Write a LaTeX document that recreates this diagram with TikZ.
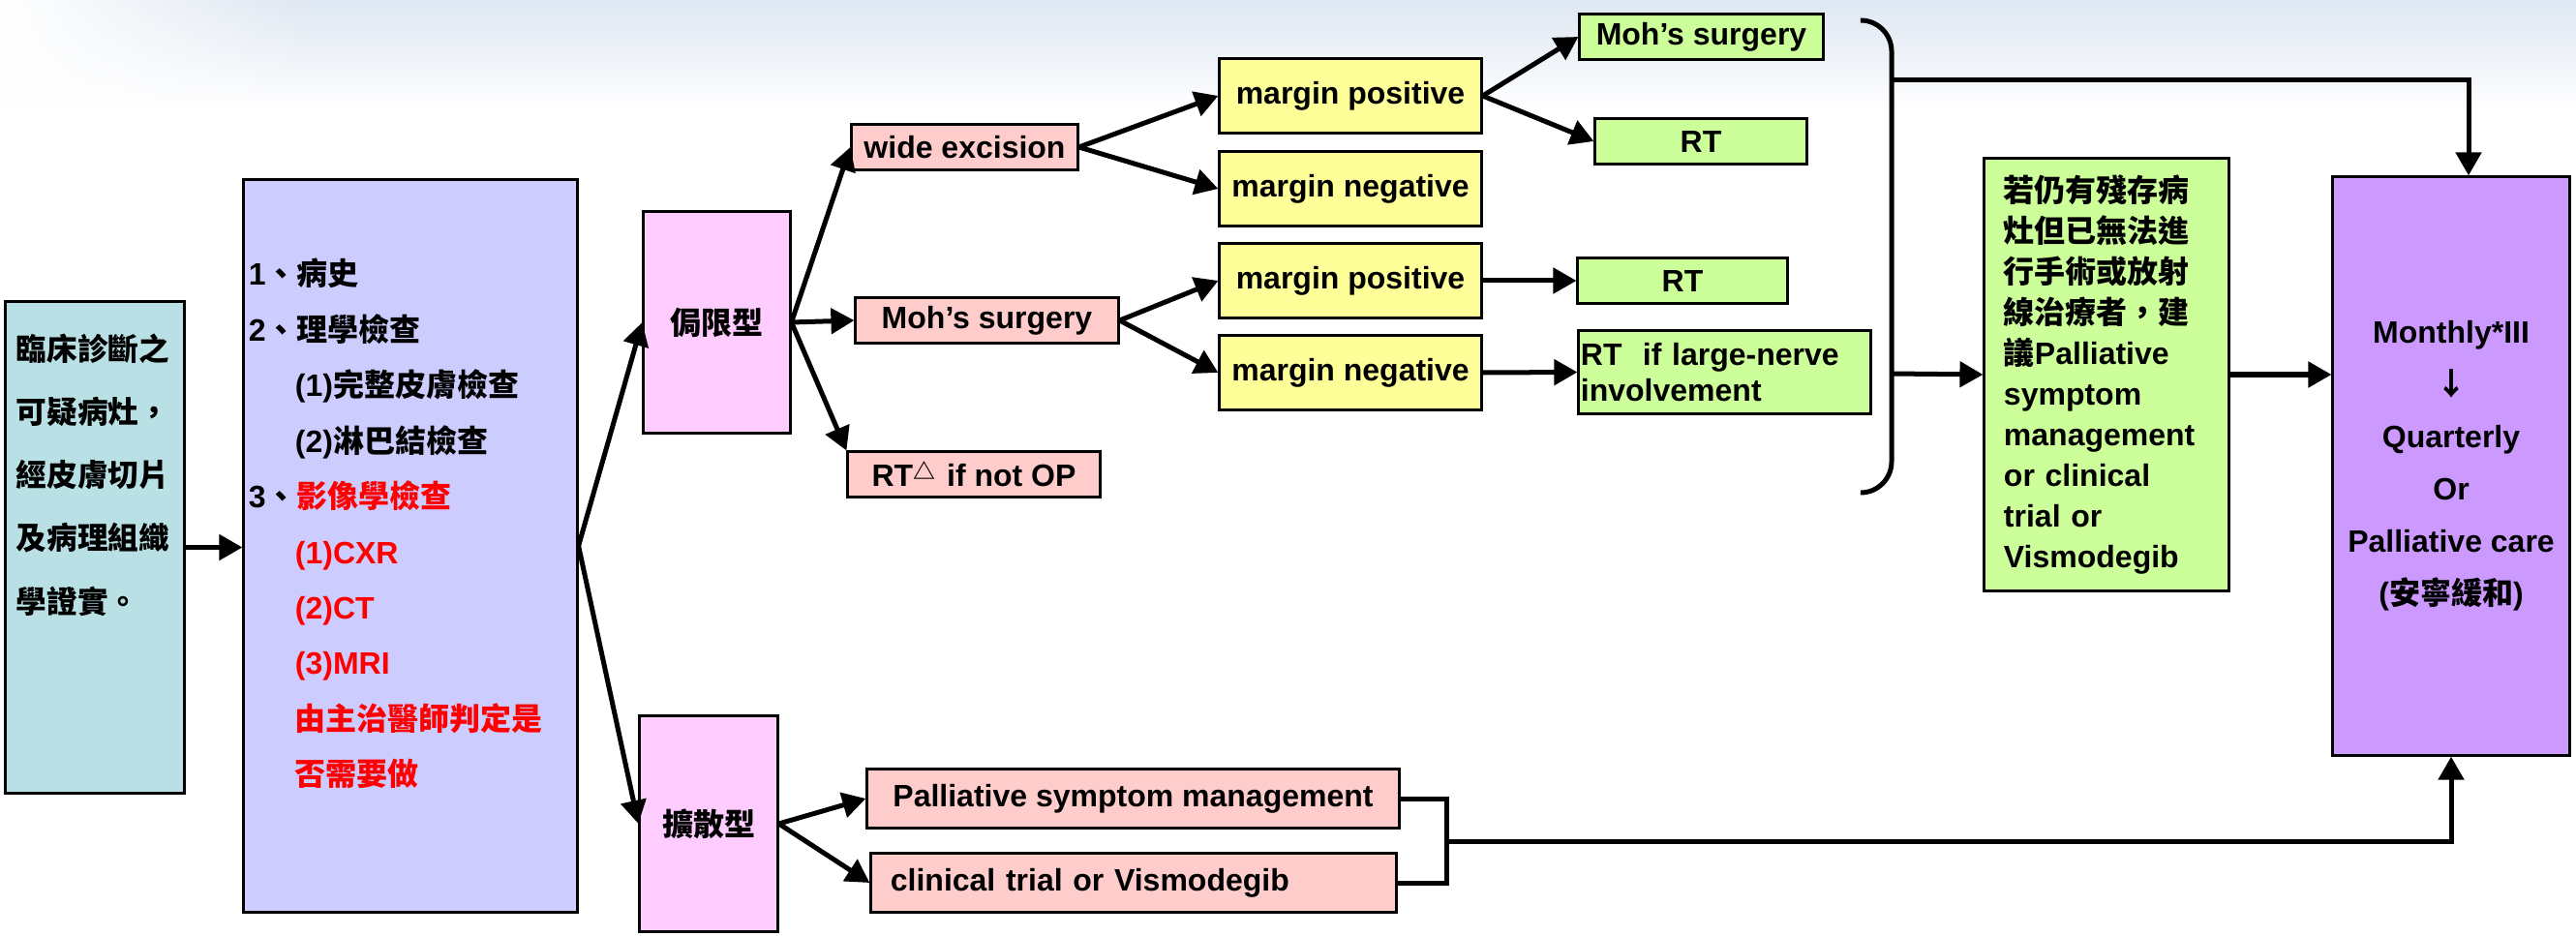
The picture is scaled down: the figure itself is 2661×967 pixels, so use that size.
\documentclass[tikz,border=0pt]{standalone}
\usepackage{fontspec}
\setmainfont{Liberation Sans}
\newfontfamily\zh{Noto Sans CJK TC}
\usepackage{tikz}
\usetikzlibrary{arrows.meta}
\usetikzlibrary{calc}
\usetikzlibrary{fadings}
\definecolor{cSky}{RGB}{222,231,242}
\definecolor{cTeal}{RGB}{185,224,228}
\definecolor{cLav}{RGB}{204,204,255}
\definecolor{cRose}{RGB}{255,204,204}
\definecolor{cMauve}{RGB}{255,204,255}
\definecolor{cLemon}{RGB}{255,255,153}
\definecolor{cLime}{RGB}{204,255,153}
\definecolor{cViolet}{RGB}{204,153,255}
\tikzset{bx/.style={draw,line width=0.03cm,inner sep=0pt,font=\fontsize{9.1}{11}\selectfont\bfseries}}
\tikzset{ar/.style={line width=0.05cm,-{Triangle[length=0.24cm,width=0.26cm]}}}
\tikzset{ln/.style={line width=0.05cm}}

\begin{document}
\begin{tikzpicture}[x=0.01cm,y=-0.01cm]
  \useasboundingbox (0,0) rectangle (2661,967);
  \fill[white] (0,0) rectangle (2661,967);
  \shade[top color=cSky,bottom color=white] (0,0) rectangle (2661,115);
  \fill[white,path fading=east] (0,0) rectangle (320,115);

  \node[bx,fill=cTeal,inner xsep=0.11cm] (Dx) at (98,565.5) {\parbox[c][5.07cm][t]{1.62cm}{\fontsize{9}{0.65cm}\selectfont\zh
    \rule{0pt}{0.61cm}臨床診斷之\\可疑病灶，\\經皮膚切片\\及病理組織\\學證實。}};
  \node[bx,fill=cLav,inner xsep=0.05cm] (Ex) at (424,564) {\parbox[c][7.56cm][t]{3.34cm}{\fontsize{9.1}{0.574cm}\selectfont
    \rule{0pt}{1.09cm}1{\zh 、病史}\\
    2{\zh 、理學檢查}\\
    \hspace*{0.48cm}(1){\zh 完整皮膚檢查}\\
    \hspace*{0.48cm}(2){\zh 淋巴結檢查}\\
    3{\zh 、\color{red}影像學檢查}\\
    \color{red}\hspace*{0.48cm}(1)CXR\\
    \hspace*{0.48cm}(2)CT\\
    \hspace*{0.48cm}(3)MRI\\
    \hspace*{0.48cm}{\zh 由主治醫師判定是}\\
    \hspace*{0.48cm}{\zh 否需要做}}};
  \draw[ar] (Dx.east) -- (Dx.east -| Ex.west);

  \node[bx,fill=cMauve,minimum width=1.51cm,minimum height=2.28cm] (L) at (740.5,333) {\zh 侷限型};
  \node[bx,fill=cMauve,minimum width=1.42cm,minimum height=2.22cm] (S) at (732,851) {\zh 擴散型};
  \draw[ar] (Ex.east) -- (L.west);
  \draw[ar] (Ex.east) -- (S.west);

  \node[bx,fill=cRose,minimum width=2.33cm,minimum height=0.46cm] (W) at (996.5,152) {wide excision};
  \node[bx,fill=cRose,minimum width=2.71cm,minimum height=0.46cm] (M) at (1019.5,331) {Moh’s surgery};
  \node[bx,fill=cRose,minimum width=2.60cm,minimum height=0.46cm] (R) at (1006,490) {RT\raisebox{0.4ex}{\fontsize{6.5}{7}\selectfont\zh △}\hspace{0.12cm}if not OP};
  \draw[ar] (L.east) -- (W.west);
  \draw[ar] (L.east) -- (M.west);
  \draw[ar] (L.east) -- (R.north west);

  \node[bx,fill=cLemon,minimum width=2.70cm,minimum height=0.76cm] (P1) at (1395,99) {margin positive};
  \node[bx,fill=cLemon,minimum width=2.70cm,minimum height=0.76cm] (N1) at (1395,195) {margin negative};
  \node[bx,fill=cLemon,minimum width=2.70cm,minimum height=0.76cm] (P2) at (1395,290) {margin positive};
  \node[bx,fill=cLemon,minimum width=2.70cm,minimum height=0.76cm] (N2) at (1395,385) {margin negative};
  \draw[ar] (W.east) -- (P1.west);
  \draw[ar] (W.east) -- (N1.west);
  \draw[ar] (M.east) -- (P2.west);
  \draw[ar] (M.east) -- (N2.west);

  \node[bx,fill=cLime,minimum width=2.51cm,minimum height=0.46cm] (G1) at (1757.5,38) {Moh’s surgery};
  \node[bx,fill=cLime,minimum width=2.18cm,minimum height=0.46cm] (G2) at (1757,146) {RT};
  \node[bx,fill=cLime,minimum width=2.16cm,minimum height=0.46cm] (G3) at (1738,290) {RT};
  \node[bx,fill=cLime,minimum height=0.85cm,text width=2.97cm,inner xsep=0.02cm,align=left,font=\fontsize{9.1}{0.37cm}\selectfont\bfseries] (G4) at (1781.5,384.5) {RT~~if large-nerve\\involvement};
  \draw[ar] (P1.east) -- (G1.west);
  \draw[ar] (P1.east) -- (G2.west);
  \draw[ar] (P2.east) -- (G3.west);
  \draw[ar] (N2.east) -- (G4.west);

  \draw[ln,rounded corners=0.32cm] (1922,21) -| (1954,265) |- (1922,509);
  \coordinate (B1) at (1954,83);
  \coordinate (B2) at (1954,386);

  \node[bx,fill=cLime,minimum height=4.46cm,text width=2.12cm,inner xsep=0.2cm,align=left,font=\fontsize{9.1}{0.42cm}\selectfont\bfseries] (Q) at (2176,387)
    {{\zh 若仍有殘存病}\\{\zh 灶但已無法進}\\{\zh 行手術或放射}\\{\zh 線治療者，建}\\{\zh 議}Palliative\\symptom\\management\\or clinical\\trial or\\Vismodegib};
  \node[bx,fill=cViolet,minimum width=2.44cm,minimum height=5.97cm,align=center,font=\fontsize{9.1}{0.54cm}\selectfont\bfseries] (F) at (2532,481.5)
    {Monthly*III\\{\zh ↓}\\Quarterly\\Or\\Palliative care\\({\zh 安寧緩和})};
  \draw[ar] (B1) -| ($(F.north)+(18,0)$);
  \draw[ar] (B2) -- (Q.west);
  \draw[ar] (Q.east) -- (Q.east -| F.west);

  \node[bx,fill=cRose,minimum width=5.49cm,minimum height=0.60cm] (PS) at (1170.5,825) {Palliative symptom management};
  \node[bx,fill=cRose,minimum height=0.60cm,text width=5.02cm,inner xsep=0.2cm,align=left] (CT) at (1171,912) {clinical trial or Vismodegib};
  \draw[ar] (S.east) -- (PS.west);
  \draw[ar] (S.east) -- (CT.west);
  \coordinate (J) at (1494,869.5);
  \draw[ln] (PS.east) -| (J) |- (CT.east);
  \draw[ar] (J) -| (F.south);
\end{tikzpicture}
\end{document}
